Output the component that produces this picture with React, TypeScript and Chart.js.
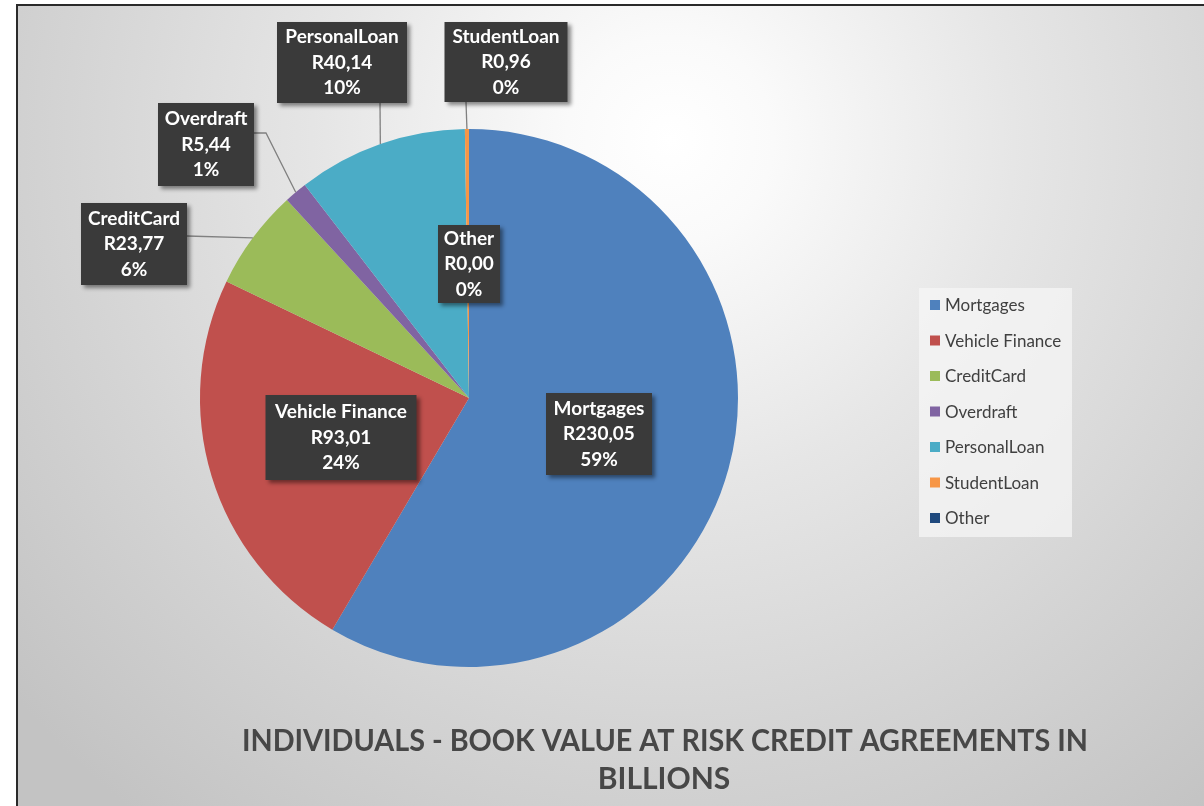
import React, { useEffect, useRef } from "react";
import { Chart, registerables } from "chart.js";

Chart.register(...registerables);

const categories = ["Mortgages", "Vehicle Finance", "CreditCard", "Overdraft", "PersonalLoan", "StudentLoan", "Other"];
const values = [230.05, 93.01, 23.77, 5.44, 40.14, 0.96, 0.0];
const percentLabels = ["59%", "24%", "6%", "1%", "10%", "0%", "0%"];
const colors = ["#4f81bd", "#c0504d", "#9bbb59", "#8064a2", "#4bacc6", "#f79646", "#1f497d"];
const titleLines = ["INDIVIDUALS - BOOK VALUE AT RISK CREDIT AGREEMENTS IN", "BILLIONS"];

// label box layout (annotation positions), index matches categories
const labelBoxes = [
  { cx: 599, top: 393, w: 106, h: 82, leader: null },
  { cx: 341, top: 395, w: 151, h: 85, leader: null },
  { cx: 134, top: 203, w: 106, h: 82, leader: [[187, 236]] },
  { cx: 206, top: 103, w: 96, h: 83, leader: [[254, 133], [266, 133]] },
  { cx: 342, top: 22, w: 130, h: 81, leader: [[380, 103]] },
  { cx: 506, top: 22, w: 123, h: 80, leader: [[466, 102]] },
  { cx: 469, top: 225, w: 62, h: 78, leader: null },
];

const W = 1204;
const H = 806;
const FONT = "Lato, 'Open Sans', sans-serif";

function fmtValue(v: number) {
  return "R" + v.toFixed(2).replace(".", ",");
}

const decorPlugin = {
  id: "decor",
  beforeDraw(chart: any) {
    const ctx = chart.ctx as CanvasRenderingContext2D;
    ctx.save();
    ctx.fillStyle = "#ffffff";
    ctx.fillRect(0, 0, W, H);
    const g = ctx.createRadialGradient(670, 140, 0, 670, 140, 860);
    g.addColorStop(0, "#ffffff");
    g.addColorStop(0.12, "#fafafa");
    g.addColorStop(0.4, "#e6e6e6");
    g.addColorStop(0.7, "#d4d4d4");
    g.addColorStop(1, "#c3c3c3");
    ctx.fillStyle = g;
    ctx.fillRect(18, 6, W - 18, H - 6);
    ctx.strokeStyle = "#2a2a2a";
    ctx.lineWidth = 2;
    ctx.beginPath();
    ctx.moveTo(17, H);
    ctx.lineTo(17, 5);
    ctx.lineTo(W, 5);
    ctx.stroke();
    ctx.restore();
  },
  afterDraw(chart: any) {
    const ctx = chart.ctx as CanvasRenderingContext2D;
    const meta = chart.getDatasetMeta(0);

    // leader lines
    ctx.save();
    ctx.strokeStyle = "#808080";
    ctx.lineWidth = 1.3;
    labelBoxes.forEach((b, i) => {
      if (!b.leader) return;
      const arc = meta.data[i] as any;
      const p = arc.getProps(["x", "y", "startAngle", "endAngle", "outerRadius"], true);
      const mid = (p.startAngle + p.endAngle) / 2;
      const ex = p.x + Math.cos(mid) * p.outerRadius;
      const ey = p.y + Math.sin(mid) * p.outerRadius;
      ctx.beginPath();
      ctx.moveTo(b.leader[0][0], b.leader[0][1]);
      for (let k = 1; k < b.leader.length; k++) ctx.lineTo(b.leader[k][0], b.leader[k][1]);
      ctx.lineTo(ex, ey);
      ctx.stroke();
    });
    ctx.restore();

    // label boxes
    labelBoxes.forEach((b, i) => {
      const x = b.cx - b.w / 2;
      ctx.save();
      ctx.shadowColor = "rgba(0,0,0,0.45)";
      ctx.shadowBlur = 4;
      ctx.shadowOffsetX = 3;
      ctx.shadowOffsetY = 3;
      ctx.fillStyle = "#3a3a3a";
      ctx.fillRect(x, b.top, b.w, b.h);
      ctx.restore();
      ctx.save();
      ctx.fillStyle = "#ffffff";
      ctx.font = `bold 19px ${FONT}`;
      ctx.textAlign = "center";
      ctx.textBaseline = "middle";
      const lines = [categories[i], fmtValue(values[i]), percentLabels[i]];
      const mid = b.top + b.h / 2;
      lines.forEach((t, k) => {
        ctx.fillText(t, b.cx, mid + (k - 1) * 25.5, b.w - 8);
      });
      ctx.restore();
    });

    // legend
    ctx.save();
    ctx.fillStyle = "rgba(245,245,245,0.75)";
    ctx.fillRect(919, 288, 153, 249);
    ctx.font = `17px ${FONT}`;
    ctx.textBaseline = "middle";
    ctx.textAlign = "left";
    categories.forEach((c, i) => {
      const y = 305 + i * 35.5;
      ctx.fillStyle = colors[i];
      ctx.fillRect(930, y - 5, 10, 10);
      ctx.fillStyle = "#404040";
      ctx.fillText(c, 945, y + 1);
    });
    ctx.restore();

    // title
    ctx.save();
    ctx.fillStyle = "#474747";
    ctx.font = `bold 30px ${FONT}`;
    ctx.textAlign = "center";
    ctx.textBaseline = "alphabetic";
    ctx.fillText(titleLines[0], 665, 751, 846);
    ctx.fillText(titleLines[1], 664, 789);
    ctx.restore();
  },
};

export default function App() {
  const ref = useRef<HTMLCanvasElement | null>(null);
  useEffect(() => {
    if (!ref.current) return;
    const chart = new Chart(ref.current, {
      type: "pie",
      data: {
        labels: categories,
        datasets: [
          {
            data: values,
            backgroundColor: colors,
            borderWidth: 0,
          },
        ],
      },
      options: {
        responsive: false,
        animation: false,
        events: [],
        layout: { padding: { left: 200, right: W - 738, top: 129, bottom: H - 667 } },
        plugins: {
          legend: { display: false },
          title: { display: false },
          tooltip: { enabled: false },
        },
      },
      plugins: [decorPlugin],
    });
    return () => chart.destroy();
  }, []);
  return (
    <div style={{ position: "fixed", left: 0, top: 0, width: W, height: H }}>
      <canvas ref={ref} width={W} height={H} style={{ display: "block" }} />
    </div>
  );
}
